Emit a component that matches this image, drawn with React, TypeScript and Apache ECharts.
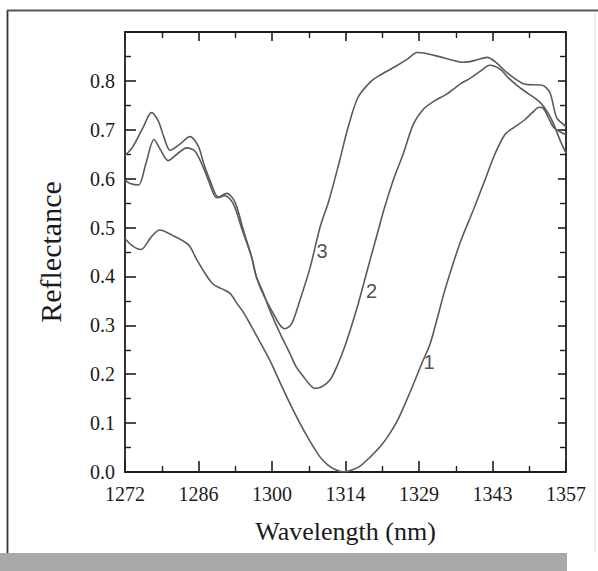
import React, { useEffect, useRef } from "react";
import * as echarts from "echarts";

// ---- Data ----
const X_MIN = 1272;
const X_MAX = 1357;
const xTickLabels = ["1272", "1286", "1300", "1314", "1329", "1343", "1357"];
const yTickLabels = ["0.0", "0.1", "0.2", "0.3", "0.4", "0.5", "0.6", "0.7", "0.8"];

const curve1Wl = [
  1272.0, 1273.5, 1275.1, 1277.0, 1278.7, 1281.0, 1284.2, 1285.8, 1287.5, 1289.0,
  1290.6, 1292.2, 1293.5, 1294.8, 1296.1, 1298.0, 1299.9, 1301.8, 1303.8, 1305.7,
  1307.7, 1309.5, 1311.0, 1312.5, 1314.1, 1315.7, 1317.3, 1319.2, 1321.2, 1322.8,
  1324.4, 1326.0, 1327.6, 1329.2, 1330.8, 1332.2, 1333.6, 1335.2, 1336.8, 1339.1,
  1341.3, 1343.2, 1345.2, 1347.0, 1349.0, 1350.5, 1351.8, 1352.6, 1353.6, 1354.6,
  1356.0, 1357.0,
];
const curve1R = [
  0.477, 0.462, 0.455, 0.48, 0.495, 0.485, 0.465, 0.435, 0.405, 0.384,
  0.375, 0.366, 0.346, 0.327, 0.303, 0.266, 0.229, 0.185, 0.14, 0.1,
  0.062, 0.032, 0.015, 0.005, 0.0, 0.004, 0.012, 0.03, 0.052, 0.075,
  0.103, 0.14, 0.18, 0.222, 0.262, 0.315, 0.37, 0.425, 0.475, 0.535,
  0.595, 0.648, 0.69, 0.705, 0.72, 0.735, 0.746, 0.744, 0.725, 0.705,
  0.695, 0.69,
];

const curve2Wl = [
  1272.0, 1273.0, 1274.6, 1276.0, 1277.6, 1278.8, 1280.3, 1282.0, 1283.9, 1285.5,
  1287.0, 1288.1, 1289.7, 1291.3, 1292.9, 1294.6, 1296.4, 1297.3, 1298.7, 1299.9,
  1301.9, 1303.8, 1305.0, 1306.4, 1307.5, 1308.6, 1310.0, 1311.5, 1312.8, 1314.1,
  1315.4, 1316.7, 1318.0, 1319.4, 1320.7, 1322.0, 1323.8, 1325.6, 1327.6, 1329.5,
  1331.5, 1334.0, 1336.8, 1338.5, 1340.5, 1342.3, 1344.3, 1346.0, 1348.1, 1350.0,
  1352.0, 1353.5, 1354.6, 1356.0, 1357.0,
];
const curve2R = [
  0.597, 0.59, 0.587, 0.63, 0.68, 0.66, 0.637, 0.65, 0.663, 0.656,
  0.625, 0.596, 0.561, 0.565, 0.548, 0.495, 0.44, 0.4, 0.365, 0.331,
  0.283, 0.242, 0.215, 0.195, 0.18, 0.171, 0.175, 0.188, 0.215, 0.249,
  0.29, 0.335, 0.385, 0.44, 0.49, 0.54, 0.6, 0.65, 0.712, 0.742,
  0.758, 0.773, 0.795, 0.805, 0.82, 0.832, 0.824, 0.805, 0.786, 0.772,
  0.756, 0.735, 0.712, 0.675, 0.652,
];

const curve3Wl = [
  1272.0, 1273.5, 1275.5, 1277.1, 1278.4, 1279.5, 1280.7, 1282.5, 1284.5, 1286.1,
  1287.2, 1288.4, 1290.0, 1291.6, 1293.2, 1294.8, 1296.4, 1297.3, 1298.7, 1300.6,
  1301.9, 1302.8, 1304.1, 1305.7, 1307.7, 1309.6, 1311.3, 1313.2, 1315.0, 1316.9,
  1319.5, 1321.2, 1324.2, 1326.5, 1328.3, 1330.1, 1333.5, 1337.3, 1339.5, 1341.8,
  1343.6, 1345.6, 1349.2, 1352.4, 1353.9, 1355.2, 1356.8, 1357.0,
];
const curve3R = [
  0.647, 0.665, 0.705, 0.735, 0.718, 0.685, 0.658, 0.67, 0.686, 0.667,
  0.63, 0.596, 0.562, 0.57, 0.552, 0.495, 0.44, 0.4, 0.362, 0.324,
  0.3, 0.293, 0.303, 0.351, 0.419, 0.501, 0.555, 0.63, 0.705, 0.766,
  0.8, 0.812, 0.83, 0.845, 0.858, 0.856, 0.847, 0.838, 0.842, 0.848,
  0.837, 0.817, 0.793, 0.791, 0.776, 0.725, 0.708, 0.705,
];

const curveNames = ["1", "2", "3"];
const curveLabelWl = [1330.6, 1319.5, 1310.0];
const curveLabelR = [0.225, 0.371, 0.453];

const pairs = (wl: number[], r: number[]) => wl.map((w, i) => [w - X_MIN, r[i]]);

const SERIF = "'Liberation Serif', 'Times New Roman', serif";
const SANS = "'Liberation Sans', Arial, sans-serif";
const LINE = "#5a5a5a";
const AXIS = "#1e1e1e";

export default function App() {
  const ref = useRef<HTMLDivElement>(null);

  useEffect(() => {
    if (!ref.current) return;
    const chart = echarts.init(ref.current, undefined, { renderer: "svg" });
    const span = X_MAX - X_MIN;
    const xInterval = span / 6;

    const axisLine = { show: true, onZero: false, lineStyle: { color: AXIS, width: 1.8 } };
    const tick = (len: number) => ({ show: true, inside: true, length: len, lineStyle: { color: AXIS, width: 1.6 } });
    const minor = { show: true, splitNumber: 2, length: 6, lineStyle: { color: AXIS, width: 1.4 } };

    const option: any = {
      animation: false,
      backgroundColor: "#ffffff",
      grid: { left: 125, right: 32, top: 32, bottom: 99, outerBoundsMode: "none", containLabel: false },
      xAxis: [
        {
          type: "value",
          position: "bottom",
          min: 0,
          max: span,
          interval: xInterval,
          axisLine,
          splitLine: { show: false },
          axisTick: tick(11),
          minorTick: minor,
          axisLabel: {
            margin: 12,
            fontFamily: SERIF,
            fontSize: 20,
            color: "#1a1a1a",
            formatter: (v: number) => {
              const i = Math.round(v / xInterval);
              return xTickLabels[i] ?? "";
            },
          },
          name: "Wavelength (nm)",
          nameLocation: "middle",
          nameGap: 46,
          nameTextStyle: { fontFamily: SERIF, fontSize: 26, color: "#1a1a1a" },
        },
        {
          type: "value",
          position: "top",
          min: 0,
          max: span,
          interval: xInterval,
          axisLine,
          splitLine: { show: false },
          axisTick: tick(9),
          minorTick: minor,
          axisLabel: { show: false },
        },
      ],
      yAxis: [
        {
          type: "value",
          position: "left",
          min: 0,
          max: 0.9,
          interval: 0.1,
          axisLine,
          splitLine: { show: false },
          axisTick: tick(11),
          minorTick: minor,
          axisLabel: {
            margin: 10,
            fontFamily: SERIF,
            fontSize: 20,
            color: "#1a1a1a",
            formatter: (v: number) => {
              const i = Math.round(v * 10);
              return yTickLabels[i] ?? "";
            },
          },
          name: "Reflectance",
          nameLocation: "middle",
          nameGap: 60,
          nameRotate: 90,
          nameTextStyle: { fontFamily: SERIF, fontSize: 30, color: "#1a1a1a" },
        },
        {
          type: "value",
          position: "right",
          min: 0,
          max: 0.9,
          interval: 0.1,
          axisLine,
          splitLine: { show: false },
          axisTick: tick(8),
          minorTick: minor,
          axisLabel: { show: false },
        },
      ],
      series: [
        ...[
          pairs(curve1Wl, curve1R),
          pairs(curve2Wl, curve2R),
          pairs(curve3Wl, curve3R),
        ].map((d, i) => ({
          type: "line",
          name: curveNames[i],
          data: d,
          smooth: 0.3,
          symbol: "none",
          lineStyle: { color: LINE, width: 1.6 },
          xAxisIndex: 0,
          yAxisIndex: 0,
          z: 3,
        })),
        {
          type: "scatter",
          xAxisIndex: 0,
          yAxisIndex: 0,
          symbolSize: 0,
          data: curveNames.map((n, i) => ({ value: [curveLabelWl[i] - X_MIN, curveLabelR[i]], name: n })),
          label: {
            show: true,
            position: "inside",
            formatter: (p: any) => p.name,
            fontFamily: SANS,
            fontSize: 20,
            color: "#222",
          },
          z: 4,
        },
      ],
      graphic: [
        { type: "line", shape: { x1: 7.5, y1: 10, x2: 7.5, y2: 553 }, style: { stroke: "#333", lineWidth: 1.8 } },
        { type: "line", shape: { x1: 7, y1: 10.5, x2: 598, y2: 10.5 }, style: { stroke: "#555", lineWidth: 1.8 } },
        { type: "line", shape: { x1: 595, y1: 11, x2: 595, y2: 553 }, style: { stroke: "#dddddd", lineWidth: 1 } },
        { type: "rect", shape: { x: 0, y: 553, width: 567, height: 18 }, style: { fill: "#a9a9a9" } },
      ],
    };

    chart.setOption(option);
    return () => chart.dispose();
  }, []);

  return (
    <div
      ref={ref}
      style={{ position: "fixed", left: 0, top: 0, width: 598, height: 571 }}
    />
  );
}
